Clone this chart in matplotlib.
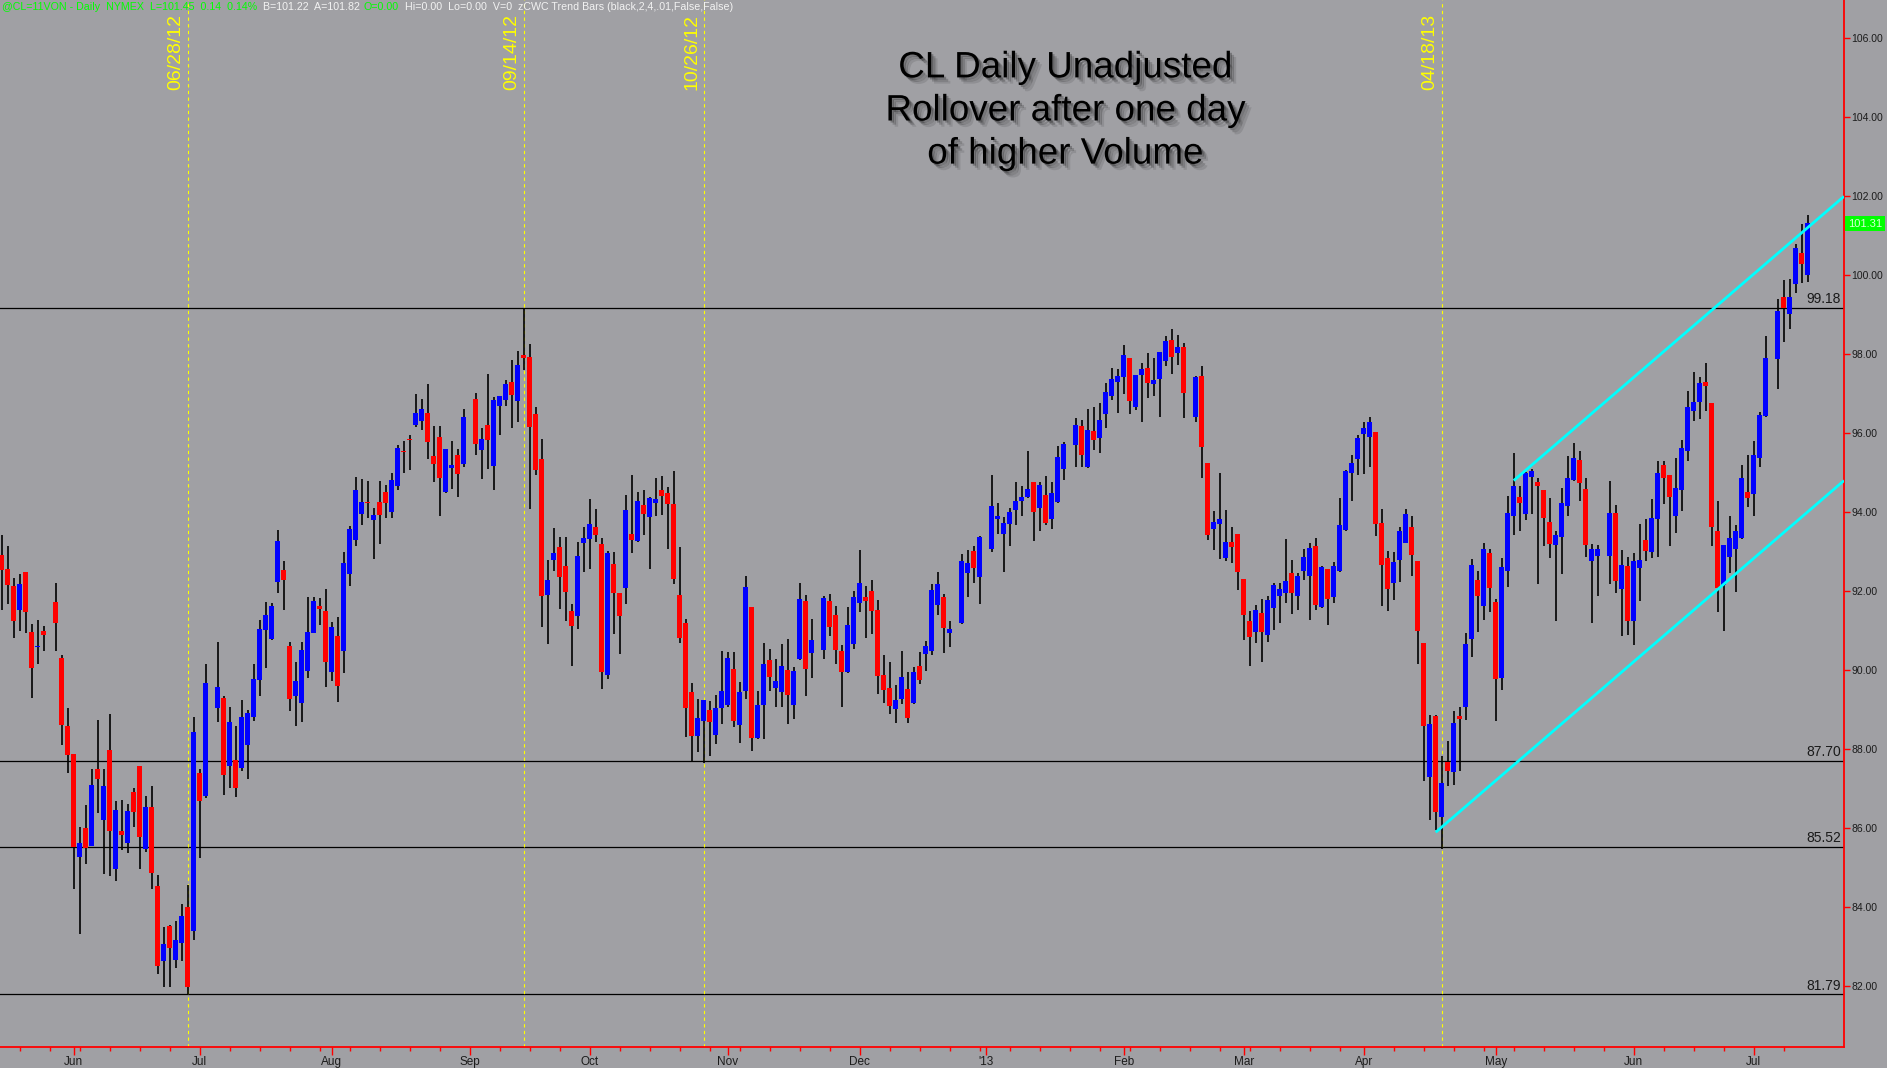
import numpy as np
import pandas as pd
import matplotlib
matplotlib.use("Agg")
import matplotlib.pyplot as plt
import matplotlib.patheffects as pe
import matplotlib.transforms as mtransforms
from matplotlib.ticker import FormatStrFormatter

# calendar of the chart: weekdays, Good Friday is left off the axis,
# exchange holidays keep an empty slot
first_day, last_day = "2012-05-16", "2013-07-12"
skipped_days = ["2013-03-29"]
no_trade_days = ["2012-05-28", "2012-07-04", "2012-09-03", "2012-11-22", "2012-12-25",
                 "2013-01-01", "2013-01-21", "2013-02-18", "2013-05-27", "2013-07-04"]

opens = [
    92.92, 92.55, 92.13, 91.52, 92.49, 90.97, 90.58, 90.99, 91.73, 90.31,
    88.58, 87.87, 85.27, 86.00, 85.55, 87.49, 86.21, 87.98, 84.97, 85.92,
    85.63, 86.91, 87.57, 85.46, 86.53, 84.53, 82.64, 83.52, 82.66, 83.08,
    84.00, 83.40, 87.39, 86.82, 89.05, 89.30, 87.58, 87.72, 87.53, 88.10,
    88.81, 89.75, 91.02, 90.79, 92.22, 92.54, 90.61, 89.33, 89.17, 89.98,
    90.95, 91.62, 91.50, 89.96, 90.86, 90.47, 92.44, 93.30, 93.96, 94.26,
    93.81, 94.26, 94.52, 94.01, 94.65, 95.54, 95.85, 96.20, 96.31, 96.51,
    95.41, 95.90, 94.51, 95.13, 95.45, 95.23, 96.87, 95.57, 96.21, 95.18,
    96.69, 96.84, 97.30, 96.82, 97.98, 97.93, 96.49, 95.35, 91.90, 92.79,
    93.12, 92.64, 91.50, 91.37, 93.22, 93.32, 93.62, 93.19, 89.87, 92.69,
    91.95, 92.08, 93.45, 93.27, 94.18, 93.88, 94.24, 94.56, 94.49, 94.21,
    91.90, 91.19, 89.44, 88.33, 88.72, 88.99, 88.35, 89.04, 89.11, 90.03,
    88.61, 89.47, 91.60, 88.28, 89.11, 90.25, 89.55, 89.44, 90.00, 89.11,
    90.28, 91.75, 90.43, 90.51, 91.75, 91.39, 90.48, 89.95, 90.66, 91.70,
    91.85, 92.00, 91.52, 89.87, 89.55, 89.01, 89.27, 89.52, 89.16, 90.10,
    90.41, 90.48, 91.65, 91.85, 90.94, 91.19, 92.46, 93.02, 92.36, 93.07,
    93.83, 93.45, 93.70, 94.05, 94.28, 94.38, 94.76, 94.11, 94.43, 93.83,
    94.26, 95.09, 95.70, 96.18, 95.14, 96.06, 95.88, 96.49, 96.94, 97.30,
    97.42, 97.91, 96.66, 97.47, 97.65, 97.25, 97.37, 97.83, 98.36, 98.03,
    98.18, 96.41, 97.45, 95.25, 93.57, 93.70, 92.84, 93.24, 93.45, 92.31,
    91.24, 90.96, 91.45, 90.89, 91.57, 91.88, 91.96, 92.46, 91.88, 92.52,
    92.37, 93.14, 91.60, 92.56, 91.86, 92.52, 93.55, 95.00, 95.35, 95.99,
    95.91, 96.03, 93.73, 92.84, 92.21, 92.79, 93.22, 93.62, 92.76, 90.68,
    87.29, 88.84, 86.28, 87.68, 87.42, 88.84, 89.07, 90.79, 92.28, 91.61,
    92.97, 91.73, 89.81, 92.52, 93.89, 94.38, 93.96, 94.90, 94.77, 94.57,
    93.76, 93.17, 93.38, 94.16, 94.82, 95.32, 94.59, 92.77, 92.90, 92.90,
    93.97, 92.05, 92.64, 91.24, 92.59, 93.29, 93.00, 93.83, 95.19, 94.94,
    93.91, 94.57, 95.56, 96.57, 96.80, 97.30, 96.77, 93.52, 92.15, 92.87,
    93.07, 93.35, 94.51, 94.46, 95.36, 96.44, 97.88, 99.44, 99.03, 99.79,
    100.57, 100.02,
]
highs = [
    93.42, 93.14, 92.32, 92.43, 92.49, 91.16, 91.27, 91.12, 92.21, 90.38,
    89.04, 87.87, 86.03, 86.57, 87.49, 88.74, 87.49, 88.89, 86.68, 86.71,
    86.61, 87.01, 87.57, 86.81, 87.06, 84.81, 83.50, 83.53, 83.63, 84.07,
    84.56, 88.82, 87.49, 90.15, 90.71, 89.33, 89.07, 88.58, 89.24, 88.99,
    90.15, 91.27, 91.73, 91.70, 93.55, 92.76, 90.71, 90.21, 90.71, 91.85,
    91.86, 91.82, 92.05, 91.22, 91.35, 93.00, 93.65, 94.89, 94.84, 94.79,
    94.11, 94.79, 94.68, 94.99, 95.71, 95.80, 95.95, 96.99, 96.87, 97.24,
    96.18, 96.18, 95.60, 95.80, 95.60, 96.61, 97.02, 96.13, 97.50, 96.92,
    96.94, 97.34, 97.85, 98.08, 99.18, 98.26, 96.66, 95.85, 92.79, 93.60,
    93.37, 93.37, 91.67, 93.24, 93.62, 94.33, 94.08, 93.35, 93.02, 92.99,
    91.95, 94.43, 94.94, 94.51, 94.56, 94.38, 94.87, 94.92, 94.64, 95.04,
    93.12, 91.29, 89.67, 89.27, 89.24, 89.22, 89.37, 90.48, 90.46, 90.46,
    89.70, 92.38, 91.60, 89.47, 90.69, 90.53, 90.28, 90.66, 90.79, 90.08,
    92.21, 91.90, 91.29, 91.88, 91.93, 91.62, 90.63, 91.60, 92.00, 93.04,
    92.13, 92.28, 91.77, 90.38, 90.20, 89.62, 90.48, 89.95, 90.08, 90.46,
    90.74, 92.18, 92.48, 91.93, 91.24, 92.94, 93.04, 93.14, 93.40, 94.94,
    94.23, 93.88, 94.11, 94.76, 94.66, 95.55, 94.76, 94.76, 94.92, 94.76,
    95.68, 95.78, 96.39, 96.33, 96.61, 96.66, 96.77, 97.27, 97.65, 97.63,
    98.23, 97.91, 97.47, 97.78, 98.03, 97.91, 98.06, 98.46, 98.64, 98.49,
    98.29, 97.45, 97.70, 95.25, 94.03, 94.99, 94.05, 93.62, 93.45, 92.31,
    91.50, 91.65, 91.80, 91.88, 92.21, 92.20, 93.31, 92.79, 92.45, 93.07,
    93.21, 93.35, 92.64, 92.56, 92.74, 94.36, 95.08, 95.45, 95.95, 96.29,
    96.41, 96.03, 94.08, 93.02, 92.99, 93.63, 94.08, 93.90, 92.76, 90.68,
    88.87, 88.87, 87.82, 88.20, 88.95, 89.07, 90.94, 92.82, 92.52, 93.22,
    93.07, 91.80, 92.85, 94.41, 95.50, 94.66, 95.02, 95.10, 94.87, 94.57,
    94.37, 93.53, 94.61, 95.42, 95.76, 95.55, 94.87, 93.19, 93.17, 94.79,
    94.18, 93.04, 92.86, 92.96, 93.70, 93.83, 94.33, 95.30, 95.30, 94.94,
    95.38, 95.83, 97.07, 97.56, 97.43, 97.78, 96.77, 94.28, 93.17, 93.89,
    93.67, 95.19, 95.45, 95.80, 96.54, 98.46, 99.41, 99.87, 99.91, 100.80,
    101.30, 101.53,
]
lows = [
    91.52, 91.67, 90.82, 91.00, 90.95, 89.30, 90.15, 90.49, 90.47, 88.10,
    87.40, 84.45, 83.31, 85.08, 85.53, 86.39, 84.83, 84.79, 84.65, 85.43,
    85.37, 86.02, 84.95, 85.38, 84.45, 82.29, 81.97, 81.97, 82.46, 82.62,
    81.79, 83.16, 85.25, 86.75, 88.68, 86.84, 87.02, 86.78, 87.44, 87.23,
    88.72, 89.35, 90.06, 90.76, 91.96, 91.53, 88.95, 88.57, 88.69, 89.81,
    90.93, 91.14, 89.58, 89.71, 89.20, 89.92, 92.14, 93.13, 93.67, 93.84,
    92.82, 93.19, 93.85, 93.85, 94.56, 95.00, 95.07, 96.16, 96.08, 95.35,
    94.76, 93.90, 94.49, 94.59, 94.38, 95.15, 95.46, 94.84, 95.10, 94.56,
    95.95, 96.69, 96.13, 96.28, 97.60, 94.08, 94.94, 91.09, 90.66, 92.51,
    91.55, 91.24, 90.10, 91.04, 92.48, 92.56, 93.24, 89.52, 89.77, 90.91,
    90.41, 91.67, 92.97, 93.24, 93.42, 92.56, 93.90, 93.93, 93.07, 92.18,
    90.69, 88.30, 87.68, 87.92, 87.65, 87.82, 88.13, 88.63, 89.06, 88.56,
    88.15, 89.27, 87.95, 88.25, 88.25, 89.47, 89.06, 89.06, 88.63, 88.76,
    90.25, 89.34, 89.80, 90.28, 90.86, 90.15, 89.06, 89.93, 90.53, 91.47,
    90.81, 90.91, 89.39, 89.16, 88.89, 88.66, 89.14, 88.66, 89.14, 89.65,
    89.98, 90.38, 91.39, 90.43, 90.58, 91.17, 91.85, 92.21, 91.67, 92.99,
    93.45, 92.48, 93.14, 93.67, 93.90, 94.36, 93.27, 93.52, 93.67, 93.57,
    94.23, 94.81, 95.14, 95.14, 95.12, 95.57, 95.50, 96.13, 96.84, 96.51,
    96.99, 96.49, 96.59, 96.28, 96.89, 96.94, 96.41, 97.70, 97.50, 97.73,
    96.39, 96.28, 94.87, 93.29, 93.04, 92.81, 92.76, 92.71, 92.03, 90.76,
    90.10, 90.69, 90.20, 90.71, 91.01, 91.18, 91.69, 91.43, 91.52, 92.28,
    91.27, 91.52, 91.57, 91.15, 91.71, 92.49, 93.53, 94.28, 94.94, 94.97,
    95.15, 93.40, 91.61, 91.50, 91.77, 92.24, 93.22, 92.38, 90.16, 87.20,
    86.20, 85.95, 85.47, 87.06, 87.09, 87.45, 88.74, 90.34, 90.97, 91.28,
    91.48, 88.72, 89.50, 92.11, 93.43, 93.51, 93.81, 93.96, 92.19, 93.15,
    92.85, 91.23, 92.44, 93.89, 94.80, 94.29, 92.87, 91.20, 91.88, 92.18,
    91.96, 90.85, 90.89, 90.63, 91.75, 92.77, 92.83, 92.86, 94.21, 93.15,
    93.46, 94.03, 95.30, 96.32, 96.36, 96.55, 93.15, 91.46, 91.00, 92.45,
    91.97, 93.32, 94.14, 93.89, 95.15, 96.42, 97.13, 98.31, 98.65, 99.55,
    99.80, 99.84,
]
closes = [
    92.54, 92.16, 91.23, 92.18, 91.46, 90.06, 90.61, 90.90, 91.18, 88.62,
    87.85, 85.51, 85.63, 85.48, 87.09, 87.23, 87.06, 85.91, 86.46, 85.82,
    86.43, 86.41, 85.78, 86.54, 84.87, 82.49, 83.07, 82.97, 83.16, 83.78,
    81.98, 88.44, 86.67, 89.67, 89.57, 87.33, 88.69, 87.02, 88.81, 88.91,
    89.77, 91.04, 91.40, 91.62, 93.27, 92.27, 89.27, 89.72, 90.51, 90.97,
    91.76, 91.54, 90.21, 91.10, 89.60, 92.72, 93.58, 94.56, 94.26, 94.22,
    93.93, 93.93, 94.22, 94.81, 95.63, 95.52, 95.83, 96.52, 96.62, 95.78,
    95.23, 94.87, 95.60, 95.20, 94.97, 96.41, 95.73, 95.85, 95.84, 96.84,
    96.94, 97.25, 96.97, 97.73, 97.91, 96.16, 95.07, 91.88, 92.28, 92.97,
    92.36, 91.98, 91.12, 92.89, 93.35, 93.70, 93.42, 89.95, 92.97, 91.95,
    91.37, 94.05, 93.29, 94.28, 93.95, 94.36, 94.33, 94.41, 94.21, 92.31,
    90.81, 89.04, 88.33, 88.78, 89.24, 88.68, 89.04, 89.47, 90.31, 88.71,
    89.44, 92.10, 88.28, 89.11, 90.15, 89.82, 89.72, 90.10, 89.37, 89.98,
    91.80, 90.03, 90.76, 91.83, 91.09, 90.51, 89.95, 91.14, 91.85, 92.21,
    91.75, 91.50, 89.85, 89.49, 89.09, 89.24, 89.82, 88.78, 89.95, 89.75,
    90.61, 92.03, 92.18, 91.07, 91.04, 92.76, 92.71, 92.59, 93.37, 94.16,
    93.90, 93.73, 94.00, 94.28, 94.38, 94.59, 94.00, 94.69, 93.73, 94.49,
    95.40, 95.73, 96.21, 95.45, 96.08, 95.83, 96.33, 97.04, 97.37, 97.45,
    97.98, 96.82, 97.47, 97.63, 97.27, 97.35, 98.06, 98.34, 97.93, 98.18,
    97.02, 97.42, 95.65, 93.42, 93.75, 93.83, 93.24, 93.12, 92.48, 91.39,
    90.84, 91.52, 90.96, 91.77, 92.15, 92.05, 92.26, 91.96, 92.38, 92.86,
    93.09, 91.65, 92.62, 91.79, 92.64, 93.67, 95.03, 95.25, 95.89, 96.14,
    96.28, 93.71, 92.67, 92.05, 92.74, 93.52, 93.95, 92.91, 91.00, 88.57,
    88.64, 86.40, 87.14, 87.45, 88.67, 88.77, 90.67, 92.67, 91.88, 93.07,
    92.09, 89.78, 92.62, 93.98, 94.66, 94.22, 94.98, 95.03, 94.65, 93.86,
    93.19, 93.41, 94.23, 94.86, 95.37, 94.75, 93.17, 93.07, 93.07, 93.97,
    92.26, 92.66, 91.24, 92.77, 92.79, 93.02, 93.86, 95.00, 94.87, 94.39,
    94.60, 95.63, 96.67, 96.80, 97.26, 97.20, 93.63, 92.09, 93.17, 93.35,
    93.53, 94.87, 94.37, 95.45, 96.46, 97.91, 99.10, 99.18, 99.44, 100.70,
    100.29, 101.32,
]

levels = [99.18, 87.70, 85.52, 81.79]
marker_dates = ["2012-06-28", "2012-09-14", "2012-10-26", "2013-04-18"]
marker_labels = ["06/28/12", "09/14/12", "10/26/12", "04/18/13"]
# trend channel: start of each line and its price where it meets the price axis
channel_dates = ["2013-04-17", "2013-05-06"]
channel_start_prices = [85.89, 94.80]
channel_edge_prices = [94.80, 102.00]
last_price = 101.31
y_ticks = [82, 84, 86, 88, 90, 92, 94, 96, 98, 100, 102, 104, 106]

title = "CL Daily Unadjusted\nRollover after one day\nof higher Volume"
header = [
    ("@CL=11VON - Daily  NYMEX  L=101.45  0.14  0.14%", "#00ff00"),
    ("B=101.22  A=101.82", "#f2f2f2"),
    ("O=0.00", "#00ff00"),
    ("Hi=0.00  Lo=0.00  V=0  zCWC Trend Bars (black,2,4,.01,False,False)", "#f2f2f2"),
]

# ---------------------------------------------------------------- layout
plt.rcParams["font.family"] = ["Liberation Sans", "DejaVu Sans"]
BG = "#a0a0a4"
W, H = 1887, 1068
AX_RIGHT, AX_BOTTOM = 1844, 1047

cal = pd.bdate_range(first_day, last_day)
cal = cal[~cal.isin(pd.to_datetime(skipped_days))]
pos = pd.Series(np.arange(len(cal)), index=cal)
trade_days = cal[~cal.isin(pd.to_datetime(no_trade_days))]
x = pos[trade_days].values.astype(float)

o = np.array(opens)
h = np.array(highs)
l = np.array(lows)
c = np.array(closes)
assert len(o) == len(h) == len(l) == len(c) == len(x)

fig = plt.figure(figsize=(W / 100, H / 100), dpi=100)
fig.patch.set_facecolor(BG)
ax = fig.add_axes([0, (H - AX_BOTTOM) / H, AX_RIGHT / W, AX_BOTTOM / H])
ax.set_facecolor(BG)

x_lo, x_hi = -1.7 / 6, (AX_RIGHT - 1.7) / 6
ax.set_xlim(x_lo, x_hi)
ax.set_ylim(80.45, 106.975)

# support / resistance levels
lvl_tr = mtransforms.blended_transform_factory(ax.transAxes, ax.transData)
for lv in levels:
    ax.axhline(lv, color="black", lw=0.9, zorder=1)
    ax.text(0.9985, lv + 0.04, f"{lv:.2f}", transform=lvl_tr, ha="right", va="bottom",
            fontsize=10, color="#1a1a1a", zorder=5)

# dated markers
for d, lab in zip(marker_dates, marker_labels):
    xm = pos[pd.Timestamp(d)]
    ax.axvline(xm, color="#ffff00", lw=0.8, ls=(0, (3, 3)), zorder=1)
    ax.text(xm - 0.55, 0.9866, lab, transform=mtransforms.blended_transform_factory(ax.transData, ax.transAxes),
            rotation=90, ha="right", va="top", fontsize=14, color="#ffff00", zorder=5)

# candles
ax.vlines(x, l, h, colors="black", lw=1.2, zorder=2)
up = c > o
body = np.maximum(np.abs(c - o), 0.035)
ax.bar(x, body, bottom=np.minimum(o, c), width=0.78,
       color=np.where(up, "#0000ff", "#ff0000"), linewidth=0, zorder=3)

# trend channel
for d, p0, p1 in zip(channel_dates, channel_start_prices, channel_edge_prices):
    ax.plot([pos[pd.Timestamp(d)], x_hi], [p0, p1], color="#00ffff", lw=2.0, zorder=4,
            solid_capstyle="butt")

# axes styling
for s in ("left", "top"):
    ax.spines[s].set_visible(False)
for s in ("right", "bottom"):
    ax.spines[s].set_color("#ff0000")
    ax.spines[s].set_linewidth(1.3)

ax.yaxis.tick_right()
ax.set_yticks(y_ticks)
ax.yaxis.set_major_formatter(FormatStrFormatter("%.2f"))
ax.tick_params(axis="y", color="#ff0000", labelcolor="#1c1c1c", length=4, width=1,
               labelsize=7.5, pad=1.5)

months = cal.to_series().groupby(cal.to_period("M")).first()
months = months[months.dt.day <= 3]
ax.set_xticks(pos[months.values].values)
ax.set_xticklabels(["'13" if m.month == 1 else m.strftime("%b") for m in months])
mondays = cal[cal.weekday == 0]
ax.set_xticks(pos[mondays].values, minor=True)
ax.tick_params(axis="x", which="major", color="#ff0000", labelcolor="#1c1c1c", length=6,
               width=1, labelsize=8.5, pad=0.8)
ax.tick_params(axis="x", which="minor", color="#ff0000", length=3, width=1)

# last price marker on the price axis
ax.text(1.0 + 4 / AX_RIGHT, last_price, f"{last_price:.2f}", transform=lvl_tr,
        ha="left", va="center", fontsize=8, color="#d6ffd6", clip_on=False, zorder=6,
        bbox=dict(boxstyle="square,pad=0.25", fc="#00ff00", ec="none"))

# title with soft drop shadow
shadow = [pe.SimplePatchShadow(offset=(k, -k), shadow_rgbFace="black", alpha=a)
          for k, a in ((1.5, 0.25), (3.0, 0.18), (4.5, 0.10))]
fig.text(1065 / W, 1 - 111 / H, title, ha="center", va="center", fontsize=26.5,
         linespacing=1.3, color="black", path_effects=shadow + [pe.Normal()])

# header line
for (txt, col), px in zip(header, (1.5, 263, 363, 405)):
    fig.text(px / W, 1 - 7 / H, txt, ha="left", va="center", fontsize=7.7, color=col)

fig.savefig("out.png", facecolor=fig.get_facecolor())
plt.close(fig)
